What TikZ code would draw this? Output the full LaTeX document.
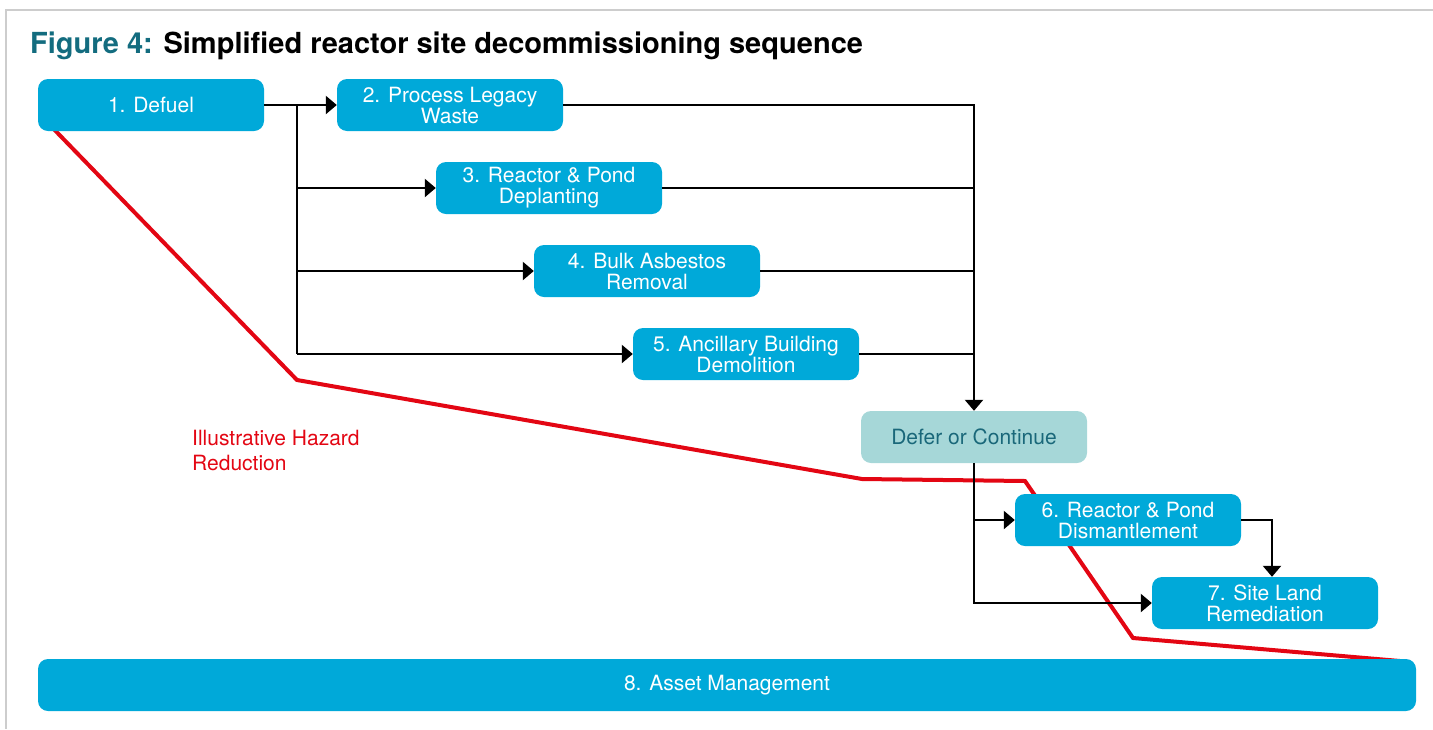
\documentclass[tikz,border=0pt]{standalone}
\usepackage{fontspec}
\setmainfont{TeX Gyre Heros}
\usetikzlibrary{arrows.meta}
\definecolor{boxblue}{RGB}{0,169,217}
\definecolor{deferfill}{RGB}{166,215,216}
\definecolor{defertext}{RGB}{26,104,122}
\definecolor{titleteal}{RGB}{19,108,127}
\definecolor{hazardred}{RGB}{227,6,19}
\definecolor{framegray}{RGB}{205,205,205}
\begin{document}
\begin{tikzpicture}[x=1pt,y=-1pt,
  stepbox/.style={fill=boxblue, rounded corners=10pt, minimum width=226pt, minimum height=52pt,
    text=white, font=\fontsize{21}{21}\selectfont, align=center, inner sep=0pt},
  deferbox/.style={stepbox, fill=deferfill, text=defertext},
  wire/.style={line width=2.4pt, draw=black},
  conn/.style={wire, -{Triangle[length=11pt,width=18pt]}},
  redline/.style={draw=hazardred, line width=4pt, line join=miter}]
\useasboundingbox (0,0) rectangle (1433,729);
% frame
\draw[framegray, line width=2pt] (1433,10) -- (6,10) -- (6,729);
% title
\node[anchor=base west, inner sep=0pt, font=\fontsize{29}{29}\selectfont\bfseries] (title) at (30,53)
  {\textcolor{titleteal}{Figure 4:} Simplified reactor site decommissioning sequence};
% hazard line (under boxes)
\draw[redline] (45,120) -- (297,380) -- (862,479) -- (1025,481) -- (1133,638) -- (1400,661);
\node[anchor=base west, inner sep=0pt, text=hazardred, align=left,
  font=\fontsize{21}{25}\selectfont] (hz) at (192,470) {Illustrative Hazard\\Reduction};
% boxes
\node[stepbox] (b1) at (151,105) {1. Defuel};
\node[stepbox] (b2) at (450,105) {2. Process Legacy\\Waste};
\node[stepbox] (b3) at (549,188) {3. Reactor \& Pond\\Deplanting};
\node[stepbox] (b4) at (647,271) {4. Bulk Asbestos\\Removal};
\node[stepbox] (b5) at (746,354) {5. Ancillary Building\\Demolition};
\node[deferbox] (d) at (974,437) {Defer or Continue};
\node[stepbox] (b6) at (1128,520) {6. Reactor \& Pond\\Dismantlement};
\node[stepbox] (b7) at (1265,603) {7. Site Land\\Remediation};
\node[stepbox, minimum width=1378pt] (b8) at (727,685) {8. Asset Management};
% connectors
\coordinate (lb) at (297,105);
\coordinate (rb) at (974,105);
\coordinate (s67) at (1272,520);
\draw[conn] (b1.east) -- (b2.west);
\draw[wire] (lb) -- (lb |- b5.west);
\draw[conn] (lb |- b3.west) -- (b3.west);
\draw[conn] (lb |- b4.west) -- (b4.west);
\draw[conn] (lb |- b5.west) -- (b5.west);
\draw[conn] (b2.east) -- (rb) -- (d.north);
\draw[wire] (b3.east) -- (rb |- b3.east);
\draw[wire] (b4.east) -- (rb |- b4.east);
\draw[wire] (b5.east) -- (rb |- b5.east);
\draw[conn] (d.south) |- (b7.west);
\draw[conn] (d.south |- b6.west) -- (b6.west);
\draw[conn] (b6.east) -- (s67) -- (s67 |- b7.north);
\end{tikzpicture}
\end{document}
